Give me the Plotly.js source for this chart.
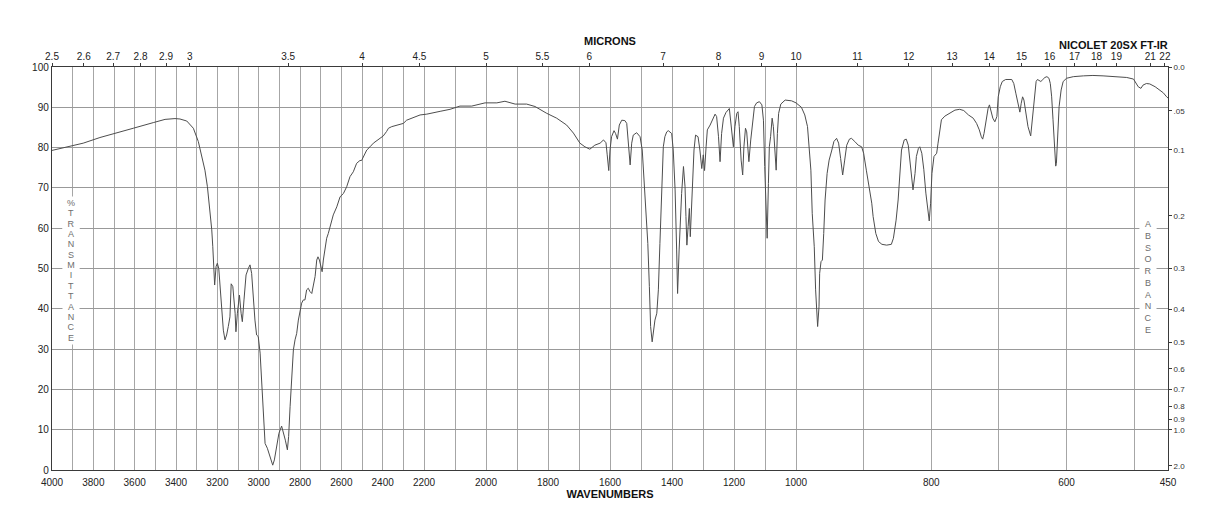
<!DOCTYPE html>
<html><head><meta charset="utf-8">
<script src="https://cdn.plot.ly/plotly-3.0.1.min.js"></script>
<style>html,body{margin:0;padding:0;background:#fff}#chart{width:1218px;height:528px}</style>
</head><body><div id="chart"></div>
<script>
// Spectrum (wavenumber in cm-1, %T)
const wavenumber = [4000,3929,3849,3768,3687,3607,3510,3453,3405,3381,3348,3316,3292,3276,3260,3248,3235,3227,3222,3219,3213,3206,3200,3193,3187,3179,3171,3163,3155,3147,3139,3133,3125,3114,3110,3103,3093,3085,3079,3071,3061,3050,3042,3034,3026,3018,3010,3002,2993,2985,2977,2969,2958,2950,2942,2932,2924,2913,2902,2889,2881,2871,2861,2855,2848,2840,2832,2824,2816,2808,2800,2792,2784,2776,2768,2760,2752,2743,2735,2727,2719,2713,2706,2700,2693,2687,2679,2671,2663,2655,2647,2639,2622,2606,2590,2574,2558,2542,2526,2510,2502,2493,2477,2461,2445,2413,2397,2381,2372,2356,2332,2316,2300,2284,2251,2219,2191,2170,2148,2116,2084,2046,2003,1965,1939,1906,1869,1842,1804,1772,1740,1718,1697,1681,1665,1649,1632,1621,1613,1609,1604,1600,1595,1587,1582,1576,1570,1562,1552,1546,1541,1535,1530,1525,1514,1503,1496,1490,1484,1478,1473,1469,1464,1460,1455,1449,1444,1439,1433,1428,1423,1417,1412,1401,1396,1390,1385,1382,1377,1373,1369,1363,1358,1355,1352,1348,1344,1341,1338,1333,1329,1324,1316,1310,1304,1299,1295,1290,1286,1277,1270,1261,1256,1250,1245,1240,1234,1226,1215,1207,1202,1197,1191,1187,1183,1177,1172,1168,1163,1159,1155,1152,1146,1140,1134,1127,1118,1110,1105,1101,1097,1093,1089,1086,1082,1077,1073,1069,1064,1060,1056,1049,1035,1014,1000,992,987,983,981,978,976,973,971,969,968,966,965,963,961,959,957,954,951,947,944,940,937,934,931,928,925,921,918,913,908,903,900,896,892,888,886,882,878,873,866,859,856,852,849,846,844,840,837,834,832,829,827,824,822,819,817,814,811,808,805,803,801,799,796,794,792,790,787,785,780,772,765,758,752,745,738,733,729,726,724,722,719,716,714,712,709,706,703,701,698,695,690,681,678,675,671,669,667,665,663,660,657,653,651,648,645,643,640,638,635,632,629,626,624,622,620,618,616,615,613,611,608,605,600,590,575,561,546,526,511,501,497,494,490,487,482,477,469,462,457,452,450];
const transmittance = [79.3,80.2,81.1,82.5,83.6,84.8,86.2,87.0,87.2,87.1,86.6,84.8,81.5,77.8,74.4,70.3,64.5,59.6,55.4,52.1,45.9,50.5,51.3,50.0,45.5,39.7,34.7,32.3,33.5,35.6,38.0,46.2,45.5,38.9,34.3,38.9,43.4,38.9,36.8,42.2,48.4,50.0,50.9,48.8,42.2,37.2,33.5,33.1,29.0,21.5,12.4,6.6,5.4,4.1,2.5,1.2,2.5,5.8,9.1,10.9,9.5,7.4,5.0,8.3,15.7,23.2,29.8,32.3,33.9,37.2,39.7,41.4,42.2,42.2,44.7,45.1,44.3,43.8,45.9,48.0,52.1,52.9,52.1,50.5,49.2,52.1,55.4,57.5,58.7,60.4,61.6,63.3,65.3,67.8,68.6,70.3,72.8,74.0,76.1,76.8,76.8,77.8,79.4,80.2,81.1,82.3,82.9,84.0,84.8,85.2,85.6,85.8,86.0,86.8,87.5,88.1,88.3,88.7,89.0,89.5,90.3,90.3,91.1,91.1,91.5,90.8,90.8,90.2,88.5,87.3,85.6,83.6,81.1,80.2,79.6,80.6,81.1,81.9,81.2,78.2,74.3,79.4,82.7,84.2,83.5,82.1,85.6,86.8,86.7,86.0,81.1,75.7,81.1,83.1,83.7,82.7,79.4,71.1,63.7,56.2,45.5,35.6,31.8,33.9,37.2,38.9,44.7,56.2,70.3,80.2,82.7,83.9,84.2,83.5,79.4,69.5,54.6,43.8,54.6,62.9,68.6,75.3,70.3,62.9,55.8,60.4,64.9,57.9,63.7,71.1,79.4,83.1,82.7,79.4,74.8,78.2,74.3,80.2,84.4,85.6,86.8,88.3,87.7,82.7,76.5,83.5,87.3,88.7,89.7,84.4,80.2,85.2,88.5,88.9,85.2,76.9,73.2,80.2,84.8,83.9,80.2,76.5,81.9,86.8,90.2,91.1,91.4,90.6,86.8,75.3,63.7,57.5,71.1,80.2,82.7,87.3,85.2,80.2,74.4,83.5,88.5,90.8,91.8,91.6,91.1,90.0,88.1,85.2,81.1,74.4,63.7,55.4,44.7,37.2,35.6,40.5,48.8,51.7,52.1,58.7,67.0,73.6,76.9,79.4,81.5,82.3,81.1,77.3,73.2,76.9,80.6,82.1,82.3,81.5,80.6,80.2,78.6,74.4,70.3,66.2,62.9,58.7,56.7,56.0,55.8,56.0,57.5,62.0,67.0,74.5,79.4,81.9,82.1,80.6,77.8,73.6,69.5,73.6,77.8,79.8,80.2,78.6,74.5,68.7,64.5,61.8,66.2,73.6,77.8,78.2,78.6,81.1,85.2,86.9,87.8,88.5,89.3,89.5,89.2,88.1,87.3,86.0,84.4,82.7,82.1,83.5,87.3,89.7,90.6,89.3,87.3,86.4,87.7,92.6,95.1,96.4,96.9,96.9,95.9,93.5,90.2,88.8,91.0,92.6,91.8,88.5,85.2,82.9,86.0,91.0,96.4,96.9,96.6,96.4,96.9,97.4,97.6,97.2,95.9,92.6,86.9,80.2,75.4,76.1,83.5,90.2,94.3,96.4,97.2,97.6,97.8,97.9,97.8,97.6,97.4,97.0,95.9,95.1,94.7,95.5,95.9,95.8,95.1,94.3,93.6,92.6,92.3];

// Bottom axis (wavenumbers): grid every 100 cm-1, labelled subset
const wavenumberGrid = [4000,3900,3800,3700,3600,3500,3400,3300,3200,3100,3000,2900,2800,2700,2600,2500,2400,2300,2200,2100,2000,1900,1800,1700,1600,1500,1400,1300,1200,1100,1000,900,800,700,600,500,450];
const wavenumberLabels = [4000,3800,3600,3400,3200,3000,2800,2600,2400,2200,2000,1800,1600,1400,1200,1000,800,600,450];
// Top axis (microns)
const micronTicks = [2.5,2.6,2.7,2.8,2.9,3,3.5,4,4.5,5,5.5,6,7,8,9,10,11,12,13,14,15,16,17,18,19,21,22];
// Left axis (%T) and right axis (absorbance)
const transmittanceTicks = [0,10,20,30,40,50,60,70,80,90,100];
const absorbanceTicks = [0.0,0.05,0.1,0.2,0.3,0.4,0.5,0.6,0.7,0.8,0.9,1.0,2.0];
const absorbanceLabels = ["0.0",".05","0.1","0.2","0.3","0.4","0.5","0.6","0.7","0.8","0.9","1.0","2.0"];

// Piecewise instrument scale: 4000-2200, 2200-1000, 1000-450 each one third of the width
function axisPos(w){
  if (w >= 2200) return (4000 - w) / 1800;
  if (w >= 1000) return 1 + (2200 - w) / 1200;
  return 2 + (1000 - w) / 550;
}

const FONT = 'Liberation Sans, Arial, Helvetica, sans-serif';
const GRID = '#a6a6a6';
const LINE = '#3a3a3a';

const xs = wavenumber.map(axisPos);
const trace = {
  type: 'scatter', mode: 'lines',
  x: xs, y: transmittance,
  line: {color: '#4d4d4d', width: 1},
  hoverinfo: 'skip', showlegend: false
};
// invisible companion so the micron (top) and absorbance (right) scales are drawn
const scaleTrace = {
  type: 'scatter', mode: 'lines', x: xs, y: transmittance,
  xaxis: 'x2', yaxis: 'y2', opacity: 0, line: {width: 0},
  hoverinfo: 'skip', showlegend: false
};

const annotations = [];
function stackedLabel(word, xpx, yTop, step, size){
  for (let i = 0; i < word.length; i++){
    annotations.push({
      xref: 'paper', yref: 'y',
      x: (xpx - 52) / 1116, y: (470 - (yTop + i * step)) / 4.03,
      text: word[i], showarrow: false,
      font: {family: FONT, size: size, color: '#6e6e6e'},
      bgcolor: '#ffffff', width: 16, height: step + 2, borderpad: 0,
      xanchor: 'center', yanchor: 'middle'
    });
  }
}
stackedLabel('%TRANSMITTANCE', 71, 203, 10.35, 9);
stackedLabel('ABSORBANCE', 1147.5, 224, 11.75, 9);
annotations.push({
  xref: 'paper', yref: 'paper', x: 1.002, y: (470 - 44.5) / 403,
  xanchor: 'right', yanchor: 'middle', showarrow: false,
  text: '<b>NICOLET 20SX FT-IR</b>',
  font: {family: FONT, size: 11, color: '#111'}
});

const layout = {
  width: 1218, height: 528,
  margin: {l: 52, r: 50, t: 67, b: 58},
  paper_bgcolor: '#fff', plot_bgcolor: '#fff',
  font: {family: FONT, size: 10, color: '#222'},
  showlegend: false,
  xaxis: {
    range: [0, 3], tickmode: 'array',
    tickvals: wavenumberGrid.map(axisPos),
    ticktext: wavenumberGrid.map(w => wavenumberLabels.includes(w) ? String(w) : ''),
    showgrid: true, gridcolor: GRID, gridwidth: 1,
    showline: true, linecolor: LINE, linewidth: 1.2, mirror: true,
    ticks: '', zeroline: false, ticklabelstandoff: 3,
    tickfont: {family: FONT, size: 10, color: '#222'},
    title: {text: '<b>WAVENUMBERS</b>', font: {family: FONT, size: 11, color: '#111'}, standoff: 2}
  },
  xaxis2: {
    overlaying: 'x', side: 'top', anchor: 'y',
    range: [0, 3], tickmode: 'array',
    tickvals: micronTicks.map(m => axisPos(10000 / m)),
    ticktext: micronTicks.map(String),
    showgrid: false, zeroline: false, showline: false,
    ticks: 'outside', ticklen: 3, tickcolor: LINE, tickwidth: 1,
    ticklabelstandoff: -1,
    tickfont: {family: FONT, size: 10, color: '#222'},
    title: {text: '<b>MICRONS</b>', font: {family: FONT, size: 11, color: '#111'}, standoff: 3}
  },
  yaxis: {
    range: [0, 100], tickmode: 'array', tickvals: transmittanceTicks,
    showgrid: true, gridcolor: '#999', gridwidth: 1,
    showline: true, linecolor: LINE, linewidth: 1.2, mirror: true,
    ticks: '', zeroline: false,
    tickfont: {family: FONT, size: 10, color: '#222'}
  },
  yaxis2: {
    overlaying: 'y', side: 'right', anchor: 'x',
    range: [0, 100], tickmode: 'array',
    tickvals: absorbanceTicks.map(a => 100 * Math.pow(10, -a)),
    ticktext: absorbanceLabels,
    showgrid: false, zeroline: false, showline: false,
    ticks: 'outside', ticklen: 3, tickcolor: LINE, tickwidth: 1,
    tickfont: {family: FONT, size: 8, color: '#333'}
  },
  annotations: annotations
};

Plotly.newPlot('chart', [trace, scaleTrace], layout, {displayModeBar: false, staticPlot: true});
</script>
</body></html>
